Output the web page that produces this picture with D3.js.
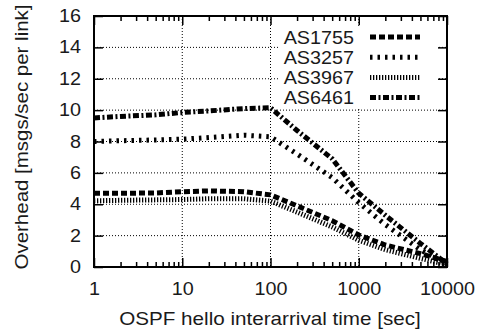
<!DOCTYPE html>
<html>
<head>
<meta charset="utf-8">
<script src="https://cdn.jsdelivr.net/npm/d3@7"></script>
<style>
  body { margin: 0; background: #fff; }
  svg { display: block; font-family: "Liberation Sans", Arial, sans-serif; }
  text { fill: #1a1a1a; }
</style>
</head>
<body>
<div id="chart"></div>
<script>
// data
const times = [1, 2, 5, 10, 20, 50, 100, 200, 500, 1000, 2000, 5000, 10000];
const as1755 = [4.7, 4.7, 4.72, 4.8, 4.85, 4.8, 4.6, 3.9, 2.95, 2.04, 1.4, 0.85, 0.35];
const as3257 = [8.0, 8.05, 8.1, 8.15, 8.25, 8.4, 8.3, 7.2, 5.7, 4.1, 2.7, 1.1, 0.15];
const as3967 = [4.22, 4.25, 4.28, 4.3, 4.35, 4.35, 4.2, 3.5, 2.55, 1.7, 1.1, 0.55, 0.15];
const as6461 = [9.5, 9.6, 9.7, 9.85, 9.95, 10.1, 10.15, 8.7, 6.9, 4.7, 3.3, 1.5, 0.2];
const seriesNames = ["AS1755", "AS3257", "AS3967", "AS6461"];
const xTicks = [1, 10, 100, 1000, 10000];
const yTicks = [0, 2, 4, 6, 8, 10, 12, 14, 16];

const series = [
  { name: seriesNames[0], values: as1755, dash: "6,3" },
  { name: seriesNames[1], values: as3257, dash: "2.5,5" },
  { name: seriesNames[2], values: as3967, dash: "1.3,1.7" },
  { name: seriesNames[3], values: as6461, dash: "6,2.5,2,2.5" }
];

const margin = { top: 16, right: 34, bottom: 68, left: 94 };
const W = 481, H = 335;
const width = W - margin.left - margin.right;
const height = H - margin.top - margin.bottom;
const fs = 17.5;

const svg = d3.select("#chart").append("svg")
  .attr("width", W)
  .attr("height", H);

const g = svg.append("g")
  .attr("transform", `translate(${margin.left},${margin.top})`);

const x = d3.scaleLog().domain([1, 10000]).range([0, width]);
const y = d3.scaleLinear().domain([0, 16]).range([height, 0]);

// grid
const grid = g.append("g").attr("stroke", "#000").attr("stroke-width", 1).attr("stroke-dasharray", "1,2");
grid.selectAll(".gy").data(yTicks.slice(1, -1)).enter().append("line")
  .attr("x1", 0).attr("x2", width)
  .attr("y1", d => y(d)).attr("y2", d => y(d));
grid.selectAll(".gx").data(xTicks.slice(1, -1)).enter().append("line")
  .attr("y1", 0).attr("y2", height)
  .attr("x1", d => x(d)).attr("x2", d => x(d));

// legend box (opaque, hides grid)
const lx = 354 - margin.left, ly0 = 43.5 - margin.top, lstep = 20.2;
g.append("rect")
  .attr("x", 186).attr("y", 11)
  .attr("width", 157).attr("height", 80)
  .attr("fill", "#fff");

// minor ticks
const minor = [];
for (let dec = 1; dec < 10000; dec *= 10) {
  for (let k = 2; k <= 9; k++) minor.push(dec * k);
}
g.append("g").attr("transform", `translate(0,${height})`)
  .call(d3.axisBottom(x).tickValues(minor).tickSize(-5).tickFormat(""));
g.append("g")
  .call(d3.axisTop(x).tickValues(minor).tickSize(-5).tickFormat(""));

// major ticks + labels
g.append("g").attr("transform", `translate(0,${height})`)
  .call(d3.axisBottom(x).tickValues(xTicks).tickSize(-9).tickPadding(16).tickFormat(d3.format("d")));
g.append("g")
  .call(d3.axisTop(x).tickValues(xTicks).tickSize(-9).tickFormat(""));
g.append("g")
  .call(d3.axisLeft(y).tickValues(yTicks).tickSize(-9).tickPadding(11.5));
g.append("g").attr("transform", `translate(${width},0)`)
  .call(d3.axisRight(y).tickValues(yTicks).tickSize(-9).tickFormat(""));

g.selectAll(".domain").remove();
g.selectAll(".tick line").attr("stroke", "#000").attr("stroke-width", 1.5);
g.selectAll(".tick text")
  .attr("fill", "#1a1a1a")
  .style("font-size", fs + "px")
  .style("font-family", "'Liberation Sans', Arial, sans-serif")
  .attr("transform", "scale(1.13,1)");

// curves
const line = d3.line()
  .x((d, i) => x(times[i]))
  .y(d => y(d));

g.selectAll(".curve").data(series).enter().append("path")
  .attr("class", "curve")
  .attr("d", d => line(d.values))
  .attr("fill", "none")
  .attr("stroke", "#000")
  .attr("stroke-width", 5)
  .attr("stroke-linecap", "butt")
  .attr("stroke-linejoin", "miter")
  .attr("stroke-dasharray", d => d.dash);

// border
g.append("rect")
  .attr("width", width).attr("height", height)
  .attr("fill", "none").attr("stroke", "#000").attr("stroke-width", 2);

// legend
const leg = g.selectAll(".leg").data(series).enter().append("g")
  .attr("class", "leg")
  .attr("transform", (d, i) => `translate(${lx},${ly0 + i * lstep})`);
leg.append("text")
  .attr("text-anchor", "end")
  .attr("transform", "scale(1.13,1)")
  .style("font-size", fs + "px")
  .text(d => d.name);
leg.append("line")
  .attr("x1", 16).attr("x2", 66)
  .attr("y1", -6.5).attr("y2", -6.5)
  .attr("stroke", "#000")
  .attr("stroke-width", 5)
  .attr("stroke-dasharray", d => d.dash);

// axis titles
svg.append("text")
  .attr("text-anchor", "middle")
  .attr("transform", `translate(270,325) scale(1.18,1)`)
  .style("font-size", fs + "px")
  .text("OSPF hello interarrival time [sec]");

svg.append("text")
  .attr("text-anchor", "middle")
  .attr("transform", `translate(28,137) rotate(-90) scale(1.17,1)`)
  .style("font-size", fs + "px")
  .text("Overhead [msgs/sec per link]");
</script>
</body>
</html>
